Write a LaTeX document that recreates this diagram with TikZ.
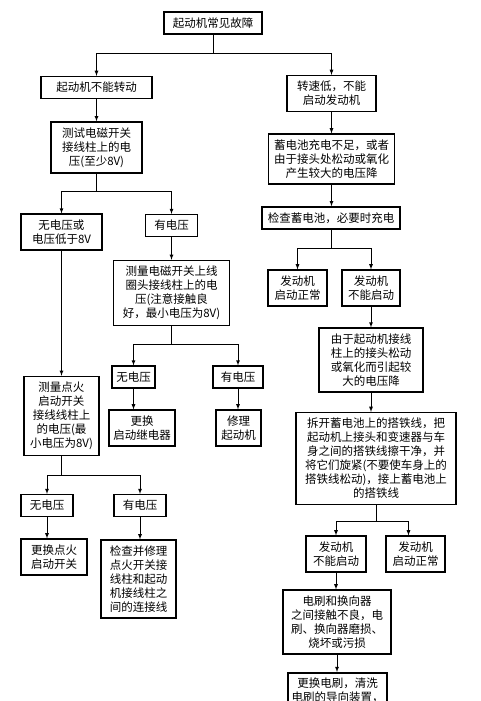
\documentclass[tikz,border=0pt]{standalone}
\usepackage{fontspec}
\setmainfont{Noto Sans CJK SC}
\usepackage{tikz}
\usetikzlibrary{shapes,arrows,positioning}
\tikzset{
    every node/.style={font=\fontsize{11.5}{14}\selectfont}
}

\begin{document}
\begin{tikzpicture}[x=1pt,y=-1pt,>=latex]
            % Define block styles
            \tikzstyle{box} = [rectangle, draw, line width=1.5pt, align=center,
                inner xsep=2pt, inner ysep=5.5pt, fill=white]
            \tikzstyle{line} = [draw, line width=0.8pt]

            \useasboundingbox (0,0) rectangle (480,701);
            \clip (0,0) rectangle (480,701);

            % Place nodes
            \node [box, minimum width=98] (top) at (213,23) {起动机常见故障};
            \node [box, minimum width=111] (left) at (96.5,87.5) {起动机不能转动};
            \node [box, minimum width=89] (slow) at (331.5,93.5) {转速低，不能\\启动发动机};
            \node [box, minimum width=91] (test) at (96.5,147.5) {测试电磁开关\\接线柱上的电\\压(至少8V)};
            \node [box, minimum width=126] (cause) at (331.5,159) {蓄电池充电不足，或者\\由于接头处松动或氧化\\产生较大的电压降};
            \node [box, minimum width=138] (check) at (331,218) {检查蓄电池，必要时充电};
            \node [box, minimum width=81] (low) at (61.5,232) {无电压或\\电压低于8V};
            \node [box, minimum width=52] (volt) at (171.5,225.5) {有电压};
            \node [box, minimum width=116] (coil) at (171.5,293) {测量电磁开关上线\\圈头接线柱上的电\\压(注意接触良\\好，最小电压为8V)};
            \node [box, minimum width=43] (coilno) at (133.5,377) {无电压};
            \node [box, minimum width=50] (coilyes) at (238,377) {有电压};
            \node [box, minimum width=66] (relay) at (142,428) {更换\\启动继电器};
            \node [box, minimum width=45] (repair) at (238.5,428) {修理\\起动机};
            \node [box, minimum width=75] (ign) at (61.5,416) {测量点火\\启动开关\\接线线柱上\\的电压(最\\小电压为8V)};
            \node [box, minimum width=52] (ignno) at (47,505.5) {无电压};
            \node [box, minimum width=52] (ignyes) at (140,505.5) {有电压};
            \node [box, minimum width=66] (switch) at (54,557) {更换点火\\启动开关};
            \node [box, minimum width=75] (wire) at (138.5,579) {检查并修理\\点火开关接\\线柱和起动\\机接线柱之\\间的连接线};
            \node [box, minimum width=59] (ok1) at (297.5,288) {发动机\\启动正常};
            \node [box, minimum width=58] (fail1) at (371,288) {发动机\\不能启动};
            \node [box, minimum width=104] (loose) at (371,360) {由于起动机接线\\柱上的接头松动\\或氧化而引起较\\大的电压降};
            \node [box, minimum width=160] (ground) at (376,458.5) {拆开蓄电池上的搭铁线，把\\起动机上接头和变速器与车\\身之间的搭铁线擦干净，并\\将它们旋紧(不要使车身上的\\搭铁线松动)，接上蓄电池上\\的搭铁线};
            \node [box, minimum width=60] (fail2) at (336,554) {发动机\\不能启动};
            \node [box, minimum width=59] (ok2) at (415.5,554) {发动机\\启动正常};
            \node [box, minimum width=108] (brush) at (337,622) {电刷和换向器\\之间接触不良，电\\刷、换向器磨损、\\烧坏或污损};
            \node [box, minimum width=99, anchor=north] (clean) at (337.5,672) {更换电刷，清洗\\电刷的导向装置，};

            % Connect nodes
            \draw [line,->] (top.south) -- ++(0,19) -| (left);
            \draw [line,->] (top.south) -- ++(0,19) -| (slow);
            \draw [line,->] (left) -- (test);
            \draw [line,->] (test.south) -- ++(0,18) -| (low);
            \draw [line,->] (test.south) -- ++(0,18) -| (volt);
            \draw [line,->] (low) -- (ign);
            \draw [line,->] (volt) -- (coil);
            \draw [line,->] (coil.south) -- ++(0,18) -| (coilno);
            \draw [line,->] (coil.south) -- ++(0,18) -| (coilyes);
            \draw [line,->] (coilno) -- (coilno |- relay.north);
            \draw [line,->] (coilyes) -- (coilyes |- repair.north);
            \draw [line,->] (ign.south) -- ++(0,19) -| (ignno);
            \draw [line,->] (ign.south) -- ++(0,19) -| (ignyes);
            \draw [line,->] (ignno) -- (ignno |- switch.north);
            \draw [line,->] (ignyes) -- (ignyes |- wire.north);
            \draw [line,->] (slow) -- (slow |- cause.north);
            \draw [line,->] (cause) -- (cause |- check.north);
            \draw [line,->] (check.south) -- ++(0,19) -| (ok1);
            \draw [line,->] (check.south) -- ++(0,19) -| (fail1);
            \draw [line,->] (fail1) -- (loose);
            \draw [line,->] (loose) -- (loose |- ground.north);
            \draw [line,->] (ground.south) -- ++(0,16) -| (fail2);
            \draw [line,->] (ground.south) -- ++(0,16) -| ([xshift=-7pt]ok2.north);
            \draw [line,->] (fail2) -- (fail2 |- brush.north);
            \draw [line,->] (brush) -- (brush |- clean.north);
        \end{tikzpicture}
\end{document}
